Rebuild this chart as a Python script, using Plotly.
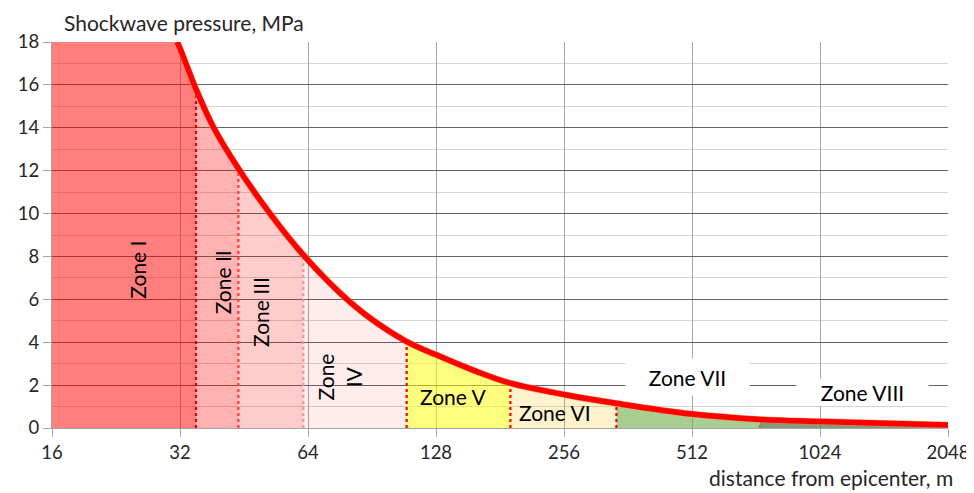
import math
import plotly.graph_objects as go

# ---- data ----
dist = [31.5, 32, 34.9, 38.3, 43.9, 52.1, 62.4, 76.1, 89.5, 109.2, 128.5, 156.4, 191.5, 259.8, 340, 512, 739, 1024, 2048]
pres = [18.0, 17.7, 15.8, 14.05, 12.1, 10.0, 8.07, 6.3, 5.13, 4.03, 3.4, 2.7, 2.09, 1.54, 1.15, 0.65, 0.4, 0.3, 0.14]

zone_names = ["Zone I", "Zone II", "Zone III", "Zone IV", "Zone V", "Zone VI", "Zone VII", "Zone VIII"]
zone_start = [16, 34.9, 43.9, 62.4, 109.2, 191.5, 340, 739]
zone_end = [34.9, 43.9, 62.4, 109.2, 191.5, 340, 739, 2048]
zone_colors = ["rgba(255,0,0,0.5)", "rgba(255,0,0,0.3)", "rgba(255,0,0,0.2)", "rgba(255,0,0,0.07)",
               "rgba(255,255,0,0.5)", "rgba(255,192,0,0.2)", "rgba(112,173,71,0.6)", "rgba(90,120,80,0.75)"]

boundary_x = [34.9, 43.9, 62.4, 109.2, 191.5, 340, 739]
boundary_colors = ["#e00000", "#ff3b3b", "#ff8f8f", "#ff0000", "#ff0000", "#ff0000", "#c07830"]

x_ticks = [16, 32, 64, 128, 256, 512, 1024, 2048]
y_ticks = [0, 2, 4, 6, 8, 10, 12, 14, 16, 18]
Y_MAX = 18

FONT = "Lato"
TXT = "#262626"

fig = go.Figure()

# zone fills
for i, name in enumerate(zone_names):
    xs = [d for d in dist if zone_start[i] <= d <= zone_end[i]]
    ys = [p for d, p in zip(dist, pres) if zone_start[i] <= d <= zone_end[i]]
    if i == 0:
        xs = [zone_start[0]] + xs
        ys = [Y_MAX] + ys
        shape = "linear"
    else:
        shape = "spline"
    fig.add_trace(go.Scatter(x=xs, y=ys, mode="lines", line=dict(width=0, shape=shape),
                             fill="tozeroy", fillcolor=zone_colors[i], showlegend=False,
                             hoverinfo="skip"))

# dotted boundaries
for bx, bc in zip(boundary_x, boundary_colors):
    by = pres[dist.index(bx)]
    fig.add_trace(go.Scatter(x=[bx, bx], y=[0, by], mode="lines",
                             line=dict(color=bc, width=2.2, dash="dot"),
                             showlegend=False, hoverinfo="skip"))

# pressure curve (orange underlay + red line)
fig.add_trace(go.Scatter(x=dist, y=pres, mode="lines",
                         line=dict(color="rgba(255,130,60,0.8)", width=6.5, shape="spline"),
                         showlegend=False, hoverinfo="skip"))
fig.add_trace(go.Scatter(x=dist, y=pres, mode="lines",
                         line=dict(color="#ff0000", width=5.5, shape="spline"),
                         showlegend=False))

# zone labels (x in data units, converted to log10 for log axis)
labels = [
    dict(x=25.4, y=7.4, text="Zone I", textangle=-90),
    dict(x=40.2, y=6.8, text="Zone II", textangle=-90),
    dict(x=49.3, y=5.4, text="Zone III", textangle=-90),
    dict(x=70.5, y=2.4, text="Zone", textangle=-90),
    dict(x=82, y=2.4, text="IV", textangle=-90),
    dict(x=140, y=1.45, text="Zone V"),
    dict(x=244, y=0.7, text="Zone VI"),
    dict(x=499, y=2.38, text="Zone VII", bgcolor="white", width=121, height=34),
    dict(x=1291, y=1.68, text="Zone VIII", bgcolor="white", width=129, height=24),
]
for lab in labels:
    lab = dict(lab)
    lab["x"] = math.log10(lab["x"])
    fig.add_annotation(xref="x", yref="y", showarrow=False,
                       font=dict(family=FONT, size=21, color="black"), **lab)

# axis titles
fig.add_annotation(text="Shockwave pressure, MPa", xref="paper", yref="paper",
                   x=0, y=1.0, xshift=10, yshift=20, xanchor="left", yanchor="middle",
                   showarrow=False, font=dict(family=FONT, size=21, color=TXT))
fig.add_annotation(text="distance from epicenter, m", xref="paper", yref="paper",
                   x=1.0, y=0, yshift=-64, xshift=7, xanchor="right", yanchor="bottom",
                   showarrow=False, font=dict(family=FONT, size=21, color=TXT))

# page body has an 8px margin, so the figure is sized/offset to keep the plot area in place
fig.update_layout(
    width=966, height=485,
    margin=dict(l=44, r=26, t=34, b=65),
    plot_bgcolor="white", paper_bgcolor="white",
    font=dict(family=FONT, size=18.5, color=TXT),
    xaxis=dict(type="log", range=[math.log10(16), math.log10(2048)],
               tickvals=x_ticks, ticktext=[str(t) for t in x_ticks],
               showgrid=True, gridcolor="#a6a6a6", gridwidth=1,
               showline=True, linecolor="#a6a6a6", linewidth=1,
               ticks="outside", ticklen=8, tickcolor="#a6a6a6",
               zeroline=False, automargin=False),
    yaxis=dict(range=[0, Y_MAX], tickvals=y_ticks,
               showgrid=True, gridcolor="#666666", gridwidth=1,
               minor=dict(dtick=1, showgrid=True, gridcolor="#d4d4d4", gridwidth=1),
               showline=True, linecolor="#a6a6a6", linewidth=1,
               ticks="outside", ticklen=8, tickcolor="#a6a6a6",
               zeroline=False, automargin=False),
)

fig.write_html("out.html")
